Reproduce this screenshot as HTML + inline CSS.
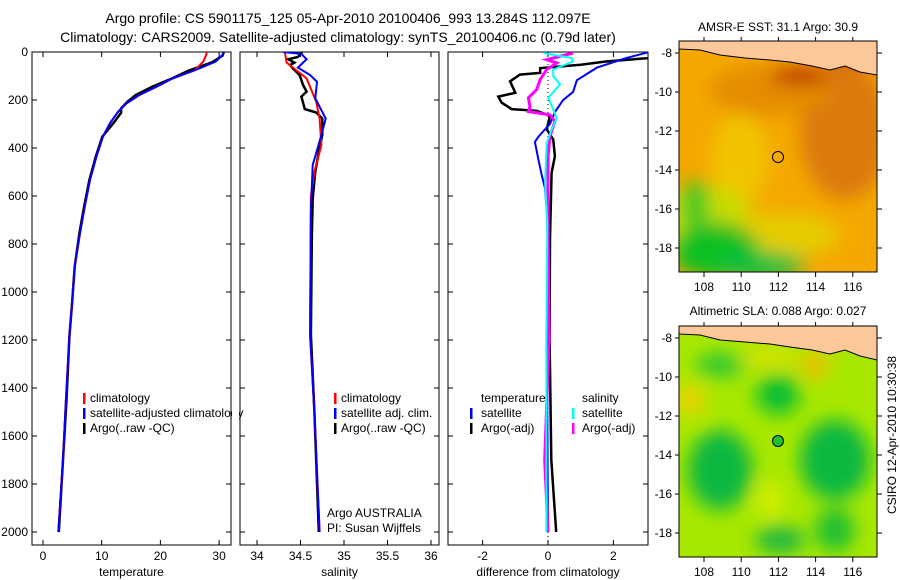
<!DOCTYPE html>
<html><head><meta charset="utf-8"><style>
body{margin:0;background:#fff;}
svg{display:block;font-family:"Liberation Sans",sans-serif;}
text{font-size:12px;fill:#000;}
</style></head><body>
<svg id="fig" width="900" height="580" viewBox="0 0 900 580">
<defs>
<clipPath id="c1"><rect x="32" y="52" width="199" height="493"/></clipPath>
<clipPath id="c2"><rect x="240" y="52" width="199" height="493"/></clipPath>
<clipPath id="c3"><rect x="448" y="52" width="200" height="493"/></clipPath>
<clipPath id="cm1"><rect x="679" y="41" width="198" height="231"/></clipPath>
<clipPath id="cm2"><rect x="679" y="326" width="198" height="231"/></clipPath>
<filter id="bl" x="-50%" y="-50%" width="200%" height="200%"><feGaussianBlur stdDeviation="9"/></filter>
</defs>
<text x="348" y="23" text-anchor="middle" style="font-size:14px">Argo profile: CS 5901175_125 05-Apr-2010 20100406_993 13.284S 112.097E</text>
<text x="338" y="42" text-anchor="middle" style="font-size:14px">Climatology: CARS2009. Satellite-adjusted climatology: synTS_20100406.nc (0.79d later)</text>

<g id="p1"></g>
<g id="p2"></g>
<g id="p3"></g>

<g>
<rect x="83" y="393" width="2.5" height="11" fill="#f00"/><text x="90" y="402">climatology</text>
<rect x="83" y="408" width="2.5" height="11" fill="#00f"/><text x="90" y="417">satellite-adjusted climatology</text>
<rect x="83" y="423" width="2.5" height="11" fill="#000"/><text x="90" y="432">Argo(..raw -QC)</text>
</g>
<rect x="232" y="385" width="7" height="50" fill="#fff"/>
<line x1="231" y1="52" x2="231" y2="545" stroke="#000"/>
<g>
<rect x="334" y="393" width="2.5" height="11" fill="#f00"/><text x="341" y="402">climatology</text>
<rect x="334" y="408" width="2.5" height="11" fill="#00f"/><text x="341" y="417">satellite adj. clim.</text>
<rect x="334" y="423" width="2.5" height="11" fill="#000"/><text x="341" y="432">Argo(..raw -QC)</text>
<text x="327" y="517">Argo AUSTRALIA</text>
<text x="327" y="532">PI: Susan Wijffels</text>
</g>
<g>
<text x="481" y="402">temperature</text>
<rect x="470" y="408" width="2.5" height="11" fill="#00f"/><text x="481" y="417">satellite</text>
<rect x="470" y="423" width="2.5" height="11" fill="#000"/><text x="481" y="432">Argo(-adj)</text>
<text x="582" y="402">salinity</text>
<rect x="572" y="408" width="2.5" height="11" fill="#0ff"/><text x="582" y="417">satellite</text>
<rect x="572" y="423" width="2.5" height="11" fill="#f0f"/><text x="582" y="432">Argo(-adj)</text>
</g>

<g>
<text x="778" y="31" text-anchor="middle">AMSR-E SST: 31.1 Argo: 30.9</text>
<g clip-path="url(#cm1)">
<rect x="679" y="41" width="198" height="231" fill="#f4a800"/>
<g filter="url(#bl)">
<ellipse cx="845" cy="130" rx="45" ry="70" fill="#dc7a08"/>
<ellipse cx="770" cy="90" rx="60" ry="25" fill="#e48c04"/>
<ellipse cx="740" cy="160" rx="28" ry="45" fill="#f2c400"/>
<ellipse cx="705" cy="225" rx="50" ry="40" fill="#c8dc00"/>
<ellipse cx="780" cy="235" rx="60" ry="22" fill="#e6cc00"/>
<ellipse cx="715" cy="250" rx="45" ry="28" fill="#10c020"/>
<ellipse cx="760" cy="265" rx="45" ry="14" fill="#10c040"/>
<ellipse cx="695" cy="205" rx="14" ry="25" fill="#40c820"/>
<ellipse cx="800" cy="76" rx="30" ry="8" fill="#b81800"/>
<ellipse cx="850" cy="50" rx="30" ry="12" fill="#c03000"/>
</g>
<path d="M679,41 H877 V75 L860,72 L845,66 L830,70 L812,66 L790,62 L770,60 L745,58 L720,55 L700,50 L679,49 Z" fill="#fcc89a" stroke="#000" stroke-width="1"/>
<circle cx="778" cy="157" r="5.5" fill="none" stroke="#000"/>
</g>
<rect x="679" y="41" width="198" height="231" fill="none" stroke="#000"/>
<g id="m1ax"></g>
</g>

<g>
<text x="778" y="315" text-anchor="middle">Altimetric SLA: 0.088 Argo: 0.027</text>
<g clip-path="url(#cm2)">
<rect x="679" y="326" width="198" height="231" fill="#a8e800"/>
<g filter="url(#bl)">
<ellipse cx="778" cy="395" rx="22" ry="20" fill="#10c030"/>
<ellipse cx="720" cy="470" rx="32" ry="40" fill="#10b840"/>
<ellipse cx="835" cy="460" rx="35" ry="40" fill="#10b840"/>
<ellipse cx="835" cy="530" rx="20" ry="22" fill="#20c030"/>
<ellipse cx="780" cy="540" rx="25" ry="14" fill="#20b840"/>
<ellipse cx="720" cy="365" rx="25" ry="12" fill="#30c830"/>
<ellipse cx="815" cy="365" rx="14" ry="14" fill="#f0c000"/>
<ellipse cx="690" cy="400" rx="14" ry="15" fill="#f0d000"/>
<ellipse cx="770" cy="500" rx="12" ry="18" fill="#d8f000"/>
<ellipse cx="770" cy="358" rx="28" ry="8" fill="#e0e000"/>
</g>
<path d="M679,326 H877 V360 L860,356 L845,350 L830,354 L812,350 L790,347 L770,344 L745,342 L720,340 L700,335 L679,334 Z" fill="#fcc89a" stroke="#000" stroke-width="1"/>
<circle cx="778" cy="441" r="5.5" fill="#20c030" stroke="#000"/>
</g>
<rect x="679" y="326" width="198" height="231" fill="none" stroke="#000"/>
<g id="m2ax"></g>
</g>
<text transform="translate(896,435) rotate(-90)" text-anchor="middle">CSIRO 12-Apr-2010 10:30:38</text>
</svg>
<script>
const tDepth=[0,12,40,75,110,145,179,214,249,297,353,436,533,645,755,894,1061,1186,1450,1700,2000];
const satTemp=[30.8,30.6,29.4,26.0,22.1,19.3,16.4,14.2,12.8,11.4,10.2,9.1,8.0,7.1,6.3,5.4,4.9,4.5,3.9,3.4,2.6];
const climTemp=[27.9,27.8,27.3,25.9,22.1,19.3,16.4,14.2,12.8,11.4,10.2,9.1,8.0,7.1,6.3,5.4,4.9,4.5,3.9,3.4,2.6];
const argoTDepth=[0,15,43,78,110,145,179,207,235,253,290,353,436,533,645,755,894,1061,1186,1450,1700,2000];
const argoTemp=[30.8,30.6,28.8,24.8,22.0,18.6,15.8,14.4,13.3,13.3,12.2,10.1,9.0,7.9,7.0,6.2,5.4,4.9,4.5,4.0,3.4,2.7];
const argoSDepth=[0,4,21,30,44,54,68,96,138,165,186,238,252,277,346,415,499,610,777,1179,1500,2000];
const argoSal=[34.51,34.51,34.47,34.36,34.43,34.38,34.41,34.49,34.53,34.57,34.51,34.55,34.68,34.75,34.75,34.71,34.67,34.64,34.63,34.62,34.66,34.71];
const satSDepth=[0,8,30,65,96,124,193,277,346,471,665,1179,1500,2000];
const satSal=[34.30,34.51,34.57,34.47,34.61,34.69,34.67,34.79,34.74,34.64,34.62,34.61,34.66,34.72];
const climSDepth=[0,44,110,207,277,388,500,600,1179,1500,2000];
const climSal=[34.32,34.34,34.57,34.68,34.72,34.74,34.66,34.62,34.61,34.66,34.72];
const satTdDepth=[0,25,65,118,166,201,250,299,354,375,444,514,569,694,1000,1500,2000];
const satTdiff=[3.1,2.4,1.5,0.88,0.77,0.46,0.21,0.06,-0.30,-0.40,-0.30,-0.19,-0.09,-0.02,0,-0.02,0];
const argoTdDepth=[25,39,53,67,87,94,122,170,186,211,238,245,266,322,364,434,503,777,1200,1700,2000];
const argoTdiff=[3.1,1.8,1.0,-0.24,-0.24,-0.86,-1.16,-1.0,-1.52,-1.42,-1.11,-0.35,0.06,-0.04,0.16,0.21,0.11,0.06,0.05,0.1,0.25];
const argoSdDepth=[4,32,46,73,115,157,191,227,248,262,289,350,434,642,1200,1700,2000];
const argoSdiff=[0.77,-0.04,0.27,-0.04,-0.24,-0.35,-0.6,-0.55,-0.6,0.06,0.21,0.06,0,0,0.03,-0.1,0];
const satSdDepth=[4,25,39,73,101,135,191,276,324,380,547,714,1200,2000];
const satSdiff=[-0.14,0.72,0.77,0.16,0.16,0.37,0.01,0.27,0.11,-0.04,-0.09,-0.02,-0.05,-0.05];
const depthTicks=[0,200,400,600,800,1000,1200,1400,1600,1800,2000];
const tempTicks=[0,10,20,30];
const salTicks=[34,34.5,35,35.5,36];
const diffTicks=[-2,0,2];
const lonTicks=[108,110,112,114,116];
const latTicks=[-8,-10,-12,-14,-16,-18];

const NS='http://www.w3.org/2000/svg';
function mk(tag,attrs,parent){const e=document.createElementNS(NS,tag);for(const k in attrs)e.setAttribute(k,attrs[k]);parent.appendChild(e);return e;}
const yD=d=>52+d*0.24;
const TOP=52,BOT=545;
function panel(g,x0,x1,xs,ticks,lab,fmt,showY){
  mk('rect',{x:x0,y:TOP,width:x1-x0,height:BOT-TOP,fill:'none',stroke:'#000'},g);
  ticks.forEach(v=>{const x=xs(v);
    mk('line',{x1:x,x2:x,y1:BOT,y2:BOT-5,stroke:'#000'},g);
    mk('line',{x1:x,x2:x,y1:TOP,y2:TOP+5,stroke:'#000'},g);
    const t=mk('text',{x:x,y:560,'text-anchor':'middle'},g);t.textContent=fmt(v);
    
    });
  depthTicks.forEach(d=>{const y=yD(d);
    mk('line',{x1:x0,x2:x0+5,y1:y,y2:y,stroke:'#000'},g);
    mk('line',{x1:x1,x2:x1-5,y1:y,y2:y,stroke:'#000'},g);
    if(showY){const t=mk('text',{x:28,y:y+4,'text-anchor':'end'},g);t.textContent=d;
      
      }});
  const t=mk('text',{x:(x0+x1)/2,y:576,'text-anchor':'middle'},g);t.textContent=lab;
  
  
}
function line(g,xs,depths,vals,color,w,name,clip){
  const p=mk('polyline',{points:vals.map((v,i)=>xs(v).toFixed(1)+','+yD(depths[i]).toFixed(1)).join(' '),fill:'none',stroke:color,'stroke-width':w,'clip-path':'url(#'+clip+')'},g);
  
  
}
const xT=v=>43+v*5.87, xS=v=>257+(v-34)*87, xDf=v=>548+v*32.7;
const g1=document.getElementById('p1'),g2=document.getElementById('p2'),g3=document.getElementById('p3');
panel(g1,32,231,xT,tempTicks,'temperature',v=>v,true);
panel(g2,240,439,xS,salTicks,'salinity',v=>v,false);
panel(g3,448,648,xDf,diffTicks,'difference from climatology',v=>v,false);
line(g1,xT,argoTDepth,argoTemp,'#000',2.5,'argo-temperature-line','c1');
line(g1,xT,tDepth,climTemp,'#f00',2,'climatology-temperature-line','c1');
line(g1,xT,tDepth,satTemp,'#00f',2,'satellite-temperature-line','c1');
line(g2,xS,argoSDepth,argoSal,'#000',2.5,'argo-salinity-line','c2');
line(g2,xS,climSDepth,climSal,'#f00',2,'climatology-salinity-line','c2');
line(g2,xS,satSDepth,satSal,'#00f',2,'satellite-salinity-line','c2');
const zl=mk('line',{x1:xDf(0),x2:xDf(0),y1:TOP,y2:BOT,stroke:'#000','stroke-dasharray':'1,3'},g3);


line(g3,xDf,argoTdDepth,argoTdiff,'#000',2.5,'argo-temperature-diff-line','c3');
line(g3,xDf,satTdDepth,satTdiff,'#00f',2,'satellite-temperature-diff-line','c3');
line(g3,xDf,argoSdDepth,argoSdiff,'#f0f',3,'argo-salinity-diff-line','c3');
line(g3,xDf,satSdDepth,satSdiff,'#0ff',2,'satellite-salinity-diff-line','c3');

function mapAxes(g,top,bot,latY){
  lonTicks.forEach(l=>{const x=704+(l-108)*18.6;
    mk('line',{x1:x,x2:x,y1:bot,y2:bot+5,stroke:'#000'},g);
    mk('line',{x1:x,x2:x,y1:top,y2:top-4,stroke:'#000'},g);
    const t=mk('text',{x:x,y:bot+19,'text-anchor':'middle'},g);t.textContent=l;
    
    });
  latTicks.forEach(l=>{const y=latY(l);
    mk('line',{x1:679,x2:675,y1:y,y2:y,stroke:'#000'},g);
    mk('line',{x1:877,x2:882,y1:y,y2:y,stroke:'#000'},g);
    const t=mk('text',{x:672,y:y+4,'text-anchor':'end'},g);t.textContent=l;
    
    });
}
mapAxes(document.getElementById('m1ax'),41,272,l=>53+(-8-l)*19.5);
mapAxes(document.getElementById('m2ax'),326,557,l=>338+(-8-l)*19.5);
</script>
</body></html>
